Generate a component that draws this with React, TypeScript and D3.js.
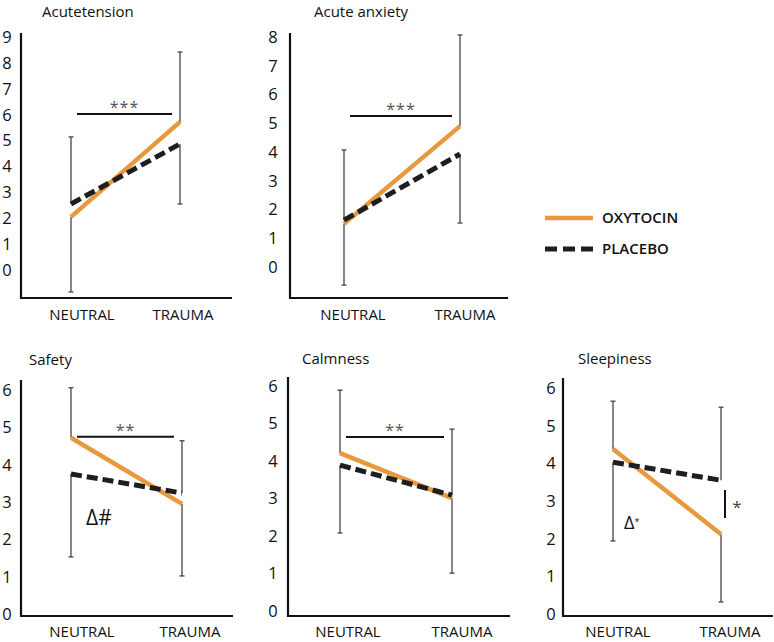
import React from "react";
import * as d3 from "d3";

// ---- data ----
const conditions = ["NEUTRAL", "TRAUMA"];
const panelTitles = ["Acutetension", "Acute anxiety", "Safety", "Calmness", "Sleepiness"];
const yMaxes = [9, 8, 6, 6, 6];
const oxytocin = [
  [2.05, 5.72],
  [1.5, 4.9],
  [4.72, 2.95],
  [4.21, 3.01],
  [4.38, 2.12],
];
const placebo = [
  [2.55, 4.87],
  [1.63, 3.93],
  [3.75, 3.24],
  [3.89, 3.09],
  [4.03, 3.55],
];
const errTop = [
  [5.14, 8.42],
  [4.07, 8.07],
  [6.06, 4.64],
  [5.89, 4.85],
  [5.65, 5.49],
];
const errBottom = [
  [-0.85, 2.55],
  [-0.63, 1.53],
  [1.53, 1.02],
  [2.08, 1.01],
  [1.94, 0.32],
];
const sigLabels = ["***", "***", "**", "**", ""];
const sigLevels = [6.03, 5.25, 4.75, 4.64, null];
const seriesNames = ["OXYTOCIN", "PLACEBO"];

// ---- layout ----
const layouts = [
  { ax: 21, top: 33, base: 298, right: 232, y0: 270, y1: 37, xN: 71, xT: 180, labN: 82, labT: 183, labY: 320, tx: 42, ty: 17, tickX: 7 },
  { ax: 290, top: 33, base: 298, right: 508, y0: 267, y1: 37, xN: 344, xT: 460, labN: 353, labT: 465, labY: 320, tx: 314, ty: 17, tickX: 273 },
  { ax: 21, top: 380, base: 616, right: 233, y0: 614, y1: 390, xN: 71, xT: 182, labN: 82, labT: 190, labY: 637, tx: 29, ty: 365, tickX: 7 },
  { ax: 288, top: 377, base: 616, right: 510, y0: 611, y1: 386, xN: 340, xT: 452, labN: 348, labT: 462, labY: 637, tx: 302, ty: 364, tickX: 273 },
  { ax: 563, top: 378, base: 616, right: 773, y0: 614, y1: 388, xN: 613, xT: 721, labN: 618, labT: 730, labY: 637, tx: 578, ty: 364, tickX: 551 },
];

const ORANGE = "#E8993E";
const DARK = "#1e1e1e";
const FONT = "'Open Sans', 'Noto Sans', sans-serif";

function Panel({ i }: { i: number }) {
  const L = layouts[i];
  const x = d3.scalePoint<string>().domain(conditions).range([L.xN, L.xT]);
  const y = d3.scaleLinear().domain([0, yMaxes[i]]).range([L.y0, L.y1]);
  const ticks = d3.range(0, yMaxes[i] + 1);
  const line = d3
    .line<number>()
    .x((_, k) => x(conditions[k]) as number)
    .y((d) => y(d));
  const sig = sigLevels[i];
  return (
    <g>
      <text x={L.tx} y={L.ty} fontSize={15} fontFamily={FONT} fill="#111">
        {panelTitles[i]}
      </text>
      {ticks.map((t) => (
        <text key={t} x={L.tickX} y={y(t)} dy="0.36em" textAnchor="middle" fontSize={16.5} fontFamily={FONT} fill="#111">
          {t}
        </text>
      ))}
      <path d={`M${L.ax},${L.top}V${L.base}H${L.right}`} fill="none" stroke="#111" strokeWidth={2.2} />
      {conditions.map((c, k) => (
        <text key={c} x={k === 0 ? L.labN : L.labT} y={L.labY} textAnchor="middle" fontSize={15} fontFamily={FONT} fill="#111">
          {c}
        </text>
      ))}
      {conditions.map((c, k) => {
        const hi = Math.max(oxytocin[i][k], placebo[i][k]);
        const lo = Math.min(oxytocin[i][k], placebo[i][k]);
        const cx = x(c) as number;
        return (
          <g key={c} stroke="#444" strokeWidth={1.3}>
            <line x1={cx} x2={cx} y1={y(hi)} y2={y(errTop[i][k])} />
            <line x1={cx - 2.5} x2={cx + 2.5} y1={y(errTop[i][k])} y2={y(errTop[i][k])} />
            <line x1={cx} x2={cx} y1={y(lo)} y2={y(errBottom[i][k])} />
            <line x1={cx - 2.5} x2={cx + 2.5} y1={y(errBottom[i][k])} y2={y(errBottom[i][k])} />
          </g>
        );
      })}
      <path d={line(oxytocin[i]) || ""} fill="none" stroke={ORANGE} strokeWidth={4.5} />
      <path d={line(placebo[i]) || ""} fill="none" stroke={DARK} strokeWidth={5} strokeDasharray="11,5" />
      {sig !== null && (
        <g>
          <line x1={L.xN + 6} x2={L.xT - 8} y1={y(sig)} y2={y(sig)} stroke="#111" strokeWidth={2} />
          <text x={(L.xN + L.xT) / 2 - 1} y={y(sig) - 1} textAnchor="middle" fontSize={16} fontFamily={FONT} fill="#555" letterSpacing={1}>
            {sigLabels[i]}
          </text>
        </g>
      )}
    </g>
  );
}

export default function App() {
  const sY = d3.scaleLinear().domain([0, 6]).range([614, 388]);
  return (
    <svg width={774} height={642} style={{ position: "absolute", left: 0, top: 0, background: "#fff" }}>
      <rect width={774} height={642} fill="#fff" />
      {panelTitles.map((_, i) => (
        <Panel key={i} i={i} />
      ))}
      {/* legend */}
      <line x1={545} x2={593} y1={218} y2={218} stroke={ORANGE} strokeWidth={4.5} />
      <text x={602} y={218} dy="0.36em" fontSize={15} fontWeight={600} fontFamily={FONT} fill="#111">
        {seriesNames[0]}
      </text>
      <line x1={545} x2={593} y1={249} y2={249} stroke={DARK} strokeWidth={5} strokeDasharray="12,6" />
      <text x={602} y={249} dy="0.36em" fontSize={15} fontWeight={600} fontFamily={FONT} fill="#111">
        {seriesNames[1]}
      </text>
      {/* annotations */}
      <text x={86} y={525} fontSize={21} fontFamily={FONT} fill="#111">Δ#</text>
      <text x={624} y={529} fontSize={18} fontFamily={FONT} fill="#111">
        Δ<tspan fontSize={9} dy={-4}>*</tspan>
      </text>
      <line x1={725} x2={725} y1={sY(3.29)} y2={sY(2.55)} stroke="#111" strokeWidth={2} />
      <text x={737} y={513} textAnchor="middle" fontSize={17} fontFamily={FONT} fill="#444">*</text>
    </svg>
  );
}
